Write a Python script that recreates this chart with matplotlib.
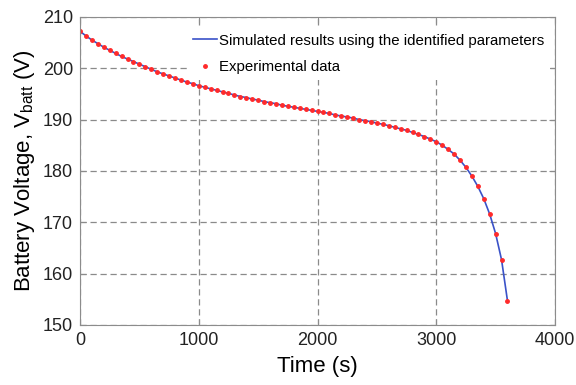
import numpy as np
import matplotlib
matplotlib.use("Agg")
import matplotlib.pyplot as plt

# =============================================================================
# Data read off the reference (battery discharge, sampled every 50 s)
# =============================================================================

time_s = list(range(0, 3601, 50))

v_exp = [207.2, 206.3, 205.5, 204.8, 204.1, 203.5, 202.9, 202.3, 201.8, 201.3,
         200.8, 200.3, 199.8, 199.3, 198.9, 198.5, 198.1, 197.7, 197.3, 197.0,
         196.6, 196.3, 196.0, 195.7, 195.4, 195.1, 194.8, 194.5, 194.3, 194.0,
         193.8, 193.5, 193.3, 193.1, 192.8, 192.6, 192.4, 192.2, 192.0, 191.8,
         191.6, 191.4, 191.2, 190.9, 190.7, 190.5, 190.3, 190.0, 189.8, 189.6,
         189.3, 189.1, 188.8, 188.5, 188.2, 187.9, 187.5, 187.1, 186.7, 186.2,
         185.7, 185.0, 184.2, 183.3, 182.1, 180.7, 179.0, 177.0, 174.6, 171.6,
         167.8, 162.7, 154.7]

# simulated curve sits on top of the measurements
v_sim = list(v_exp)

x_ticks = [0, 1000, 2000, 3000, 4000]
y_ticks = [150, 160, 170, 180, 190, 200, 210]

# =============================================================================
# Plot
# =============================================================================

plt.rcParams['font.family'] = ['Liberation Sans', 'DejaVu Sans']
plt.rcParams['mathtext.fontset'] = 'custom'
plt.rcParams['mathtext.rm'] = 'Liberation Sans'

fig = plt.figure(figsize=(5.76, 3.85), dpi=100)
ax = fig.add_axes([0.139, 0.156, 0.8245, 0.800])

ax.plot(time_s, v_sim, color='#3a52c8', lw=1.2,
        label='Simulated results using the identified parameters')
ax.plot(time_s, v_exp, ls='none', marker='.', color='#ff2a2a', ms=5,
        label='Experimental data')

ax.set_xlim(0, 4000)
ax.set_ylim(150, 210)
ax.set_xticks(x_ticks)
ax.set_yticks(y_ticks)
ax.grid(True, ls=(0, (5, 3)), color='#8a8a8a', lw=0.9)

for s in ax.spines.values():
    s.set_color('#8c8c8c')
ax.tick_params(direction='in', top=True, right=True, labelsize=13,
               color='#8c8c8c', length=4, pad=5, labelcolor='#222222')

ax.set_xlabel('Time (s)', fontsize=16, labelpad=5)
ax.set_ylabel(r'Battery Voltage, V$_{\mathrm{batt}}$ (V)', fontsize=16, labelpad=4)

leg = ax.legend(loc='upper right', bbox_to_anchor=(1.0, 0.98), frameon=True,
                fontsize=10.8, handlelength=1.6, handletextpad=0.15,
                borderaxespad=0.3, labelspacing=0.85, fancybox=False)
leg.get_frame().set_facecolor('white')
leg.get_frame().set_edgecolor('none')
leg.get_frame().set_alpha(1.0)

fig.savefig('out.png', dpi=100)
